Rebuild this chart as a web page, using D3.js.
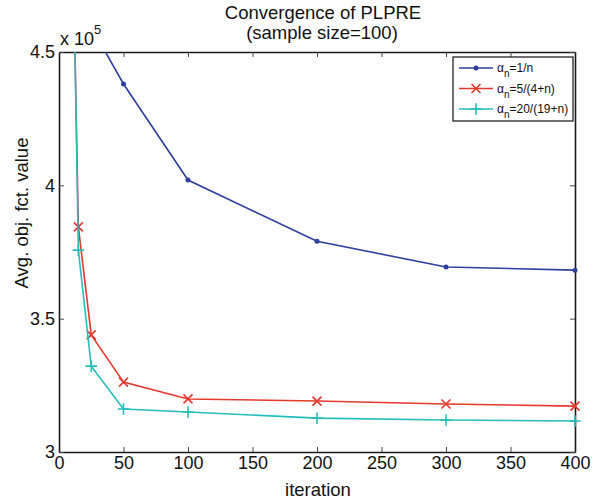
<!DOCTYPE html>
<html>
<head>
<meta charset="utf-8">
<script src="https://cdn.jsdelivr.net/npm/d3@7"></script>
<style>
  body { margin: 0; background: #fff; }
  svg { font-family: "Liberation Sans", Arial, Helvetica, sans-serif; }
</style>
</head>
<body>
<svg id="chart" width="600" height="502"></svg>
<script>
// data (objective values in units of 1e5)
const iterations = [10, 15, 25, 50, 100, 200, 300, 400];
const seriesNames = ["1/n", "5/(4+n)", "20/(19+n)"];
const valsOneOverN = [6.0, 5.1, 4.594, 4.38, 4.02, 3.79, 3.694, 3.682];
const valsFiveOver = [5.1, 3.844, 3.439, 3.262, 3.199, 3.191, 3.18, 3.172];
const valsTwentyOver = [5.19, 3.757, 3.322, 3.161, 3.15, 3.127, 3.12, 3.116];
const xTicks = [0, 50, 100, 150, 200, 250, 300, 350, 400];
const yTicks = [3, 3.5, 4, 4.5];

const colors = ["#2d3f9f", "#e5392c", "#25bdbd"];
const markers = ["dot", "cross", "plus"];
const allVals = [valsOneOverN, valsFiveOver, valsTwentyOver];

const svg = d3.select("#chart");
const plotLeft = 59, plotRight = 575, plotTop = 52, plotBottom = 452;

const x = d3.scaleLinear().domain([0, 400]).range([plotLeft, plotRight]);
const y = d3.scaleLinear().domain([3, 4.5]).range([plotBottom, plotTop]);

const axisColor = "#1a1a1a";
const tickFont = 18;

// bottom axis
const gx = svg.append("g")
  .attr("transform", `translate(0,${plotBottom})`)
  .call(d3.axisBottom(x).tickValues(xTicks).tickSizeInner(-5).tickSizeOuter(0).tickPadding(4).tickFormat(d3.format("d")));
// top axis (ticks only)
const gxt = svg.append("g")
  .attr("transform", `translate(0,${plotTop})`)
  .call(d3.axisTop(x).tickValues(xTicks).tickSizeInner(-5).tickSizeOuter(0).tickFormat(""));
// left axis
const gy = svg.append("g")
  .attr("transform", `translate(${plotLeft},0)`)
  .call(d3.axisLeft(y).tickValues(yTicks).tickSizeInner(-5).tickSizeOuter(0).tickPadding(4).tickFormat(d => d3.format("~g")(d)));
// right axis (ticks only)
const gyr = svg.append("g")
  .attr("transform", `translate(${plotRight},0)`)
  .call(d3.axisRight(y).tickValues(yTicks).tickSizeInner(-5).tickSizeOuter(0).tickFormat(""));

[gx, gxt, gy, gyr].forEach(g => {
  g.select(".domain").attr("stroke", axisColor).attr("stroke-width", 1.6);
  g.selectAll(".tick line").attr("stroke", "#444").attr("stroke-width", 1);
  g.selectAll("text").attr("font-size", tickFont).attr("fill", "#111")
    .style("font-family", "'Liberation Sans', Arial, sans-serif");
});

// exponent label
const expo = svg.append("text").attr("x", 60).attr("y", 45).attr("font-size", 18).attr("fill", "#111");
expo.append("tspan").text("x 10");
expo.append("tspan").attr("dy", -11).attr("font-size", 13).text("5");

// title
svg.append("text").attr("x", 323).attr("y", 19).attr("text-anchor", "middle")
  .attr("font-size", 18.5).attr("fill", "#111").text("Convergence of PLPRE");
svg.append("text").attr("x", 322).attr("y", 39).attr("text-anchor", "middle")
  .attr("font-size", 18.5).attr("fill", "#111").text("(sample size=100)");

// axis labels
svg.append("text").attr("x", 318).attr("y", 496).attr("text-anchor", "middle")
  .attr("font-size", 18.5).attr("fill", "#111").text("iteration");
svg.append("text").attr("transform", "translate(28,213) rotate(-90)").attr("text-anchor", "middle")
  .attr("font-size", 18.5).attr("fill", "#111").text("Avg. obj. fct. value");

// clip for lines
svg.append("clipPath").attr("id", "plot-clip")
  .append("rect").attr("x", plotLeft).attr("y", plotTop).attr("width", plotRight - plotLeft).attr("height", plotBottom - plotTop);

const line = d3.line().x(d => x(d[0])).y(d => y(d[1]));

function drawMarker(g, type, cx, cy, color, size) {
  if (type === "dot") {
    g.append("circle").attr("cx", cx).attr("cy", cy).attr("r", size * 0.5).attr("fill", color);
  } else if (type === "cross") {
    const s = size * 0.9;
    g.append("path").attr("d", `M${cx - s},${cy - s}L${cx + s},${cy + s}M${cx - s},${cy + s}L${cx + s},${cy - s}`)
      .attr("stroke", color).attr("stroke-width", 1.6).attr("fill", "none");
  } else {
    const s = size * 1.15;
    g.append("path").attr("d", `M${cx - s},${cy}L${cx + s},${cy}M${cx},${cy - s}L${cx},${cy + s}`)
      .attr("stroke", color).attr("stroke-width", 1.6).attr("fill", "none");
  }
}

allVals.forEach((vals, i) => {
  const pts = iterations.map((it, j) => [it, vals[j]]);
  const g = svg.append("g");
  g.append("path").datum(pts).attr("d", line).attr("clip-path", "url(#plot-clip)")
    .attr("fill", "none").attr("stroke", colors[i]).attr("stroke-width", 1.6);
  pts.filter(p => p[1] <= 4.5).forEach(p => drawMarker(g, markers[i], x(p[0]), y(p[1]), colors[i], 5));
});

// legend
const lg = svg.append("g");
lg.append("rect").attr("x", 453).attr("y", 57).attr("width", 120).attr("height", 64)
  .attr("fill", "#fff").attr("stroke", "#111").attr("stroke-width", 1.2);
seriesNames.forEach((name, i) => {
  const ly = 68 + i * 20.5;
  lg.append("line").attr("x1", 459).attr("x2", 493).attr("y1", ly).attr("y2", ly)
    .attr("stroke", colors[i]).attr("stroke-width", 1.6);
  drawMarker(lg, markers[i], 476, ly, colors[i], 5);
  const t = lg.append("text").attr("x", 497).attr("y", ly + 4).attr("font-size", 12).attr("fill", "#111");
  t.append("tspan").text("α");
  t.append("tspan").attr("dy", 5).attr("font-size", 10).text("n");
  t.append("tspan").attr("dy", -5).text("=" + name);
});
</script>
</body>
</html>
